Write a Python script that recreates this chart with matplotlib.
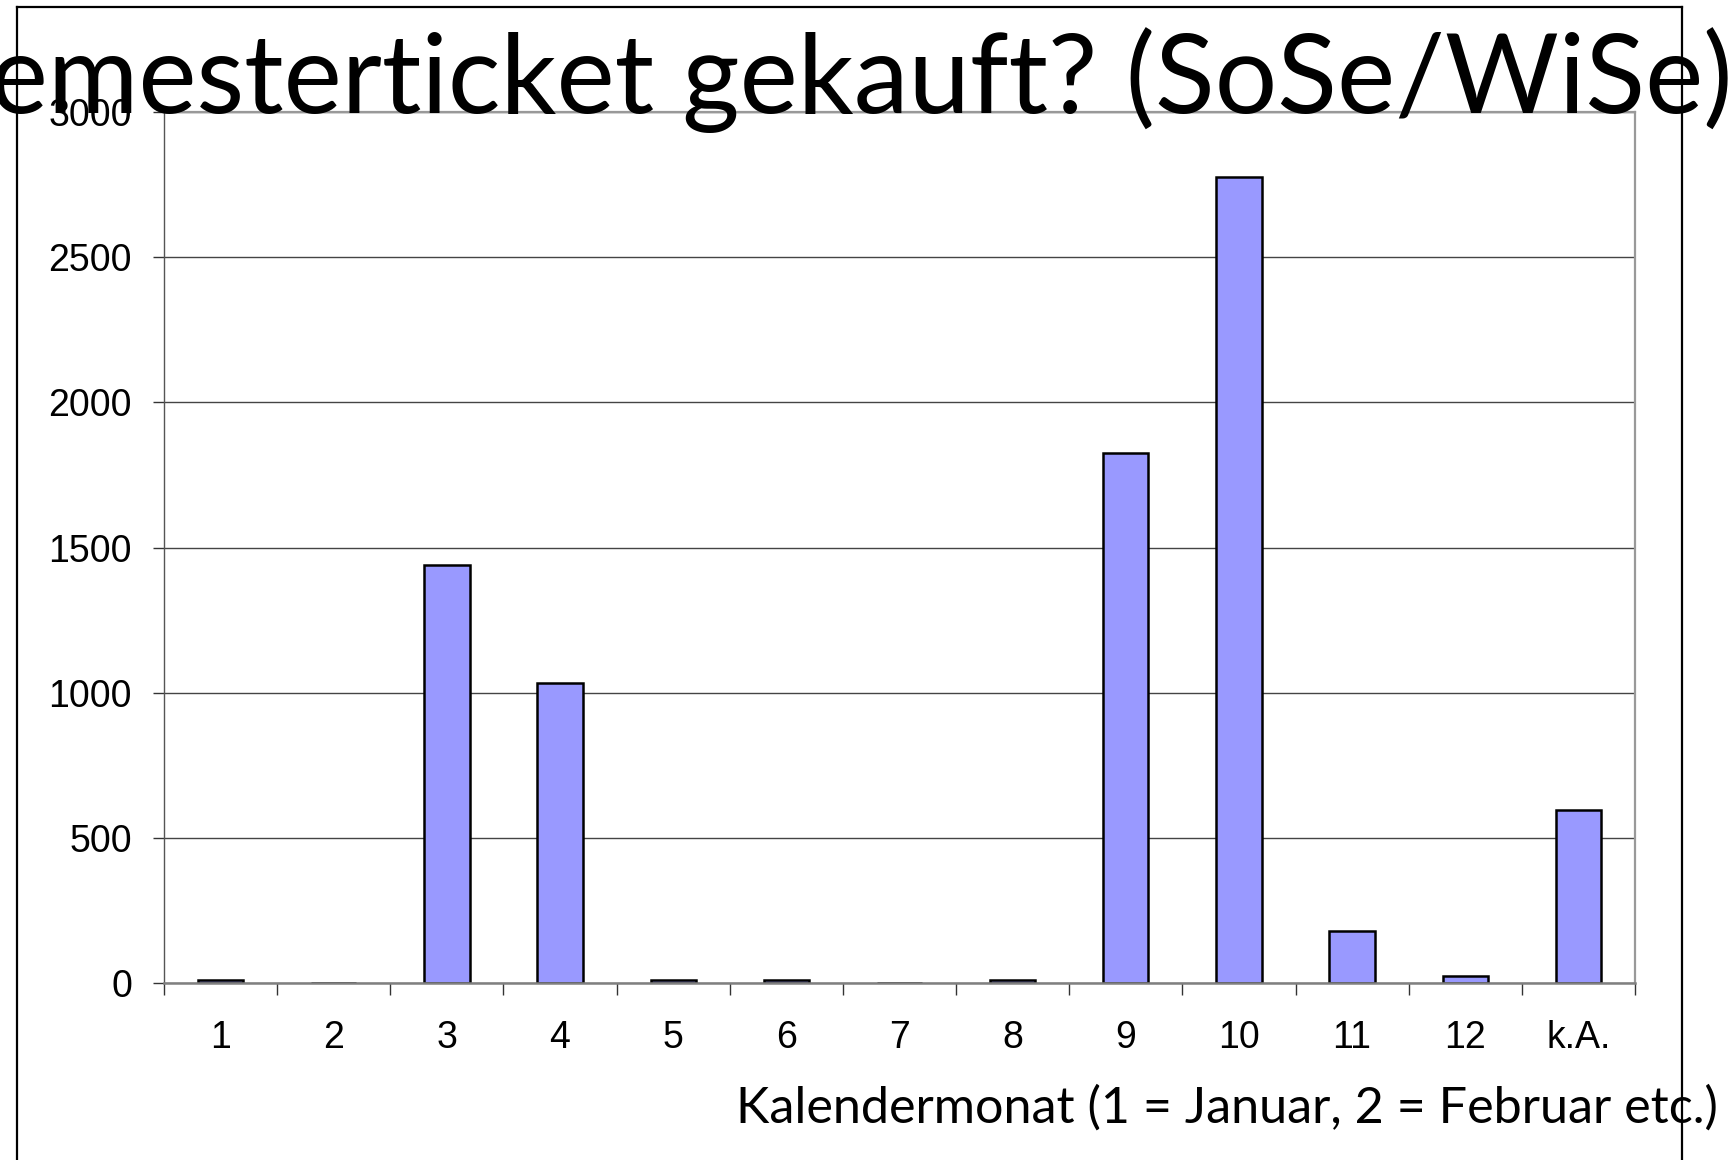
import matplotlib
matplotlib.use("Agg")
import matplotlib.pyplot as plt
from matplotlib import font_manager
from matplotlib.lines import Line2D

categories = ['1', '2', '3', '4', '5', '6', '7', '8', '9', '10', '11', '12', 'k.A.']
counts = [9, 0, 1440, 1035, 10, 9, 0, 9, 1825, 2775, 180, 25, 595]
yticks = [0, 500, 1000, 1500, 2000, 2500, 3000]
title_text = "Semesterticket gekauft? (SoSe/WiSe)"
xlabel_text = "Kalendermonat (1 = Januar, 2 = Februar etc.)"

W, H, DPI = 1736, 1160, 100
avail = {f.name for f in font_manager.fontManager.ttflist}
head_font = next((f for f in ["Lato", "DejaVu Sans"] if f in avail), "DejaVu Sans")
tick_font = "Liberation Sans" if "Liberation Sans" in avail else "DejaVu Sans"

fig = plt.figure(figsize=(W / DPI, H / DPI), dpi=DPI)
fig.patch.set_facecolor("white")

L, R, T, B = 164, 1635, 112, 983
ax = fig.add_axes([L / W, 1 - B / H, (R - L) / W, (B - T) / H])

x = list(range(len(categories)))
ax.bar(x, counts, width=0.4, color="#9999FF", edgecolor="black", linewidth=1.8, zorder=3)

ax.set_xlim(-0.5, len(categories) - 0.5)
ax.set_ylim(0, 3000)
ax.set_yticks(yticks)
ax.set_yticklabels([str(v) for v in yticks], fontsize=27, family=tick_font)
ax.set_xticks(x)
ax.set_xticklabels(categories, fontsize=27, family=tick_font)
ax.set_xticks([i - 0.5 for i in range(len(categories) + 1)], minor=True)
ax.tick_params(axis="x", which="major", length=0, pad=27)
ax.tick_params(axis="x", which="minor", length=8.5, width=1, color="#333333", direction="out")
ax.tick_params(axis="y", which="major", length=8, width=1, color="#333333", direction="out", pad=15)
ax.yaxis.grid(True, color="#444444", linewidth=1.0, zorder=0)
ax.set_axisbelow(True)

for s in ["top", "right"]:
    ax.spines[s].set_color("#999999")
    ax.spines[s].set_linewidth(1.6)
ax.spines["bottom"].set_color("#808080")
ax.spines["bottom"].set_linewidth(1.8)
ax.spines["bottom"].set_zorder(4)
ax.spines["left"].set_color("#555555")
ax.spines["left"].set_linewidth(1.0)

# figure frame lines
fig.add_artist(Line2D([17 / W, 17 / W], [0, 1 - 7 / H], transform=fig.transFigure, color="black", lw=1.6))
fig.add_artist(Line2D([17 / W, 1682 / W], [1 - 7 / H, 1 - 7 / H], transform=fig.transFigure, color="black", lw=1.6))
fig.add_artist(Line2D([1682 / W, 1682 / W], [0, 1 - 7 / H], transform=fig.transFigure, color="black", lw=1.6))

renderer = fig.canvas.get_renderer()

probe = fig.text(0, 0, title_text[1:], fontsize=80, family=head_font)
wpx = probe.get_window_extent(renderer).width
probe.remove()
tsize = 80 * 1743 / wpx
fig.text(1733 / W, 1 - 113 / H, title_text, fontsize=tsize, family=head_font,
         ha="right", va="baseline", color="black", zorder=10)

probe = fig.text(0, 0, xlabel_text, fontsize=30, family=head_font)
wpx = probe.get_window_extent(renderer).width
probe.remove()
lsize = 30 * 982 / wpx
fig.text(1718 / W, 1 - 1123 / H, xlabel_text, fontsize=lsize, family=head_font,
         ha="right", va="baseline", color="black", zorder=10)

fig.savefig("out.png", dpi=DPI, facecolor="white")
